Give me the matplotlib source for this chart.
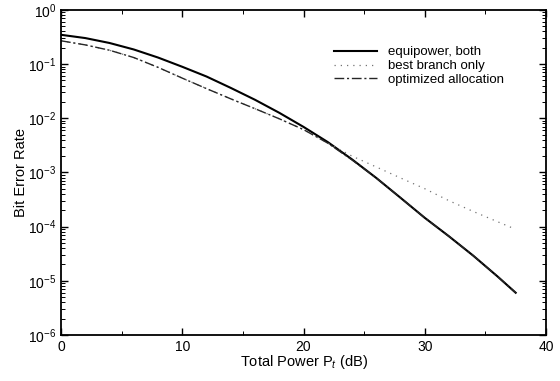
import numpy as np
import matplotlib
matplotlib.use("Agg")
import matplotlib.pyplot as plt
from matplotlib.ticker import LogLocator, MultipleLocator, NullFormatter

plt.rcParams['font.family'] = ['Liberation Sans', 'DejaVu Sans']
plt.rcParams['mathtext.fontset'] = 'custom'
plt.rcParams['mathtext.rm'] = 'Liberation Sans'
plt.rcParams['mathtext.it'] = 'Liberation Sans:italic'

# total power (dB)
pt_db = [0, 2, 4, 6, 8, 10, 12, 14, 16, 18, 20, 22, 24, 26, 28, 30, 32, 34, 36, 37.5]
ber_equipower = [0.347, 0.302, 0.245, 0.186, 0.132, 0.0891, 0.0589, 0.0363, 0.0219, 0.0126,
                 0.00692, 0.00363, 0.00174, 7.9e-4, 3.4e-4, 1.45e-4, 6.6e-5, 2.9e-5,
                 1.2e-5, 6.0e-6]
ber_optimized = [0.269, 0.226, 0.180, 0.132, 0.0870, 0.0550, 0.0352, 0.0228, 0.0150, 0.00977,
                 0.00617, 0.00347, 0.0017, 7.9e-4, 3.4e-4, 1.45e-4, 6.6e-5, 2.9e-5,
                 1.2e-5, 6.0e-6]
ber_best = [0.269, 0.226, 0.180, 0.132, 0.0870, 0.0550, 0.0352, 0.0228, 0.0150, 0.00977,
            0.00617, 0.00347, 0.0020, 0.00126, 7.9e-4, 5.0e-4, 3.0e-4, 1.9e-4,
            1.23e-4, 8.9e-5]

fig = plt.figure(figsize=(5.6, 3.81), dpi=100)
ax = fig.add_axes([0.109, 0.121, 0.866, 0.853])

ax.semilogy(pt_db, ber_equipower, color='black', lw=1.5, label='equipower, both')
ax.semilogy(pt_db, ber_best, color='0.45', lw=0.9, ls=(0, (1, 4)), label='best branch only')
ax.semilogy(pt_db, ber_optimized, color='0.15', lw=1.0, ls=(0, (7, 2, 1.5, 2)),
            label='optimized allocation')

ax.set_xlim(0, 40)
ax.set_ylim(1e-6, 1)
ax.xaxis.set_major_locator(MultipleLocator(10))
ax.xaxis.set_minor_locator(MultipleLocator(5))
ax.xaxis.set_minor_formatter(NullFormatter())
ax.yaxis.set_major_locator(LogLocator(base=10, numticks=10))
ax.yaxis.set_minor_locator(LogLocator(base=10, subs=np.arange(2, 10), numticks=10))
ax.yaxis.set_minor_formatter(NullFormatter())
ax.tick_params(which='both', direction='in', top=True, right=True, labelsize=10)
ax.tick_params(which='major', length=5, width=1)
ax.tick_params(which='minor', length=3, width=0.7)
for s in ax.spines.values():
    s.set_linewidth(1.3)

ax.set_xlabel('Total Power P$_t$ (dB)', fontsize=10.5)
ax.set_ylabel('Bit Error Rate', fontsize=10.5)
ax.xaxis.set_label_coords(0.5, -0.055)
ax.yaxis.set_label_coords(-0.068, 0.5)

ax.legend(loc='upper left', bbox_to_anchor=(0.539, 0.925), frameon=False, fontsize=9.5,
          handlelength=3.2, handletextpad=0.9, labelspacing=0.12)

fig.savefig('out.png', dpi=100)
